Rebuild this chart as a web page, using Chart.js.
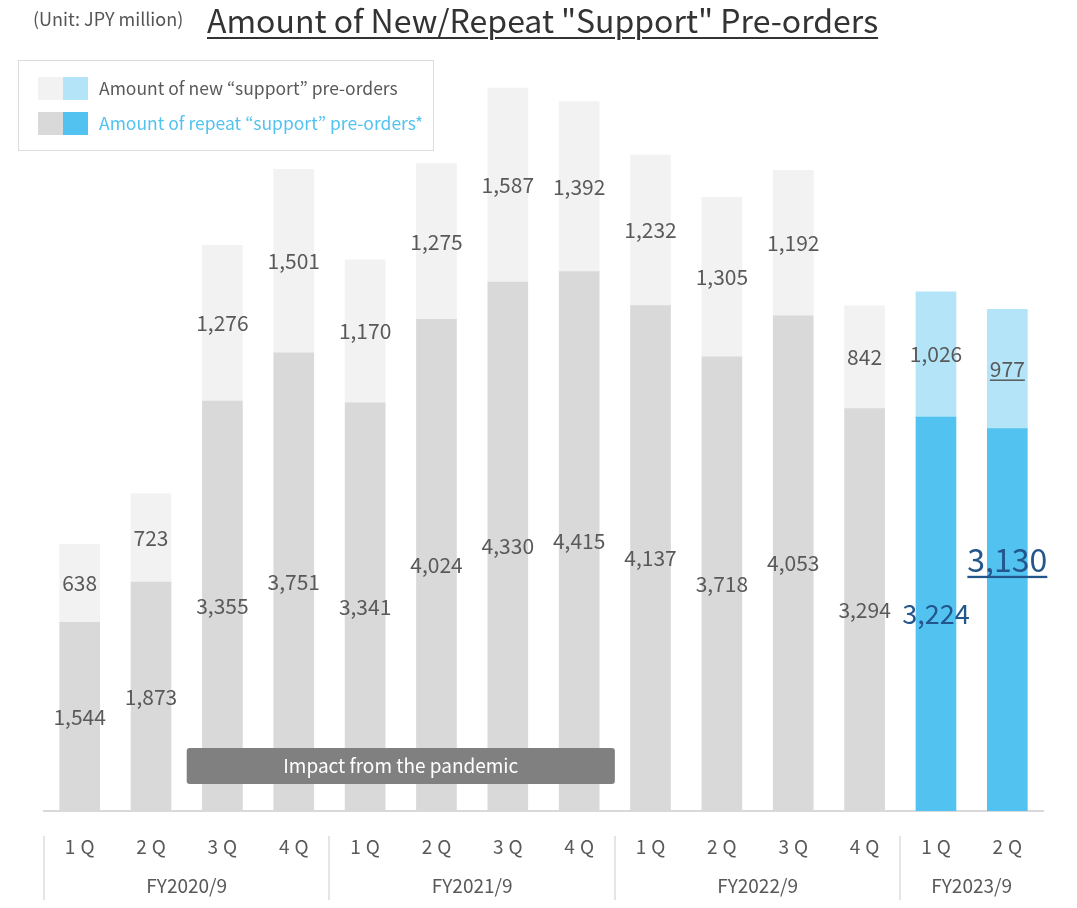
<!DOCTYPE html>
<html>
<head>
<meta charset="utf-8">
<script src="https://cdn.jsdelivr.net/npm/chart.js@4.4.1/dist/chart.umd.min.js"></script>
<style>
  html, body { margin: 0; padding: 0; background: #fff; }
  body { font-family: "Noto Sans CJK JP", "Noto Sans", sans-serif; }
  #wrap { position: relative; width: 1077px; height: 908px; overflow: hidden; }
  #chart { position: absolute; left: 0; top: 0; }
  .unit { position: absolute; left: 33px; top: 5px; font-size: 18px; line-height: 26px; color: #555; white-space: nowrap; }
  .title { position: absolute; left: 207px; top: -4px; font-size: 32px; line-height: 46px; color: #333; white-space: nowrap;
           text-decoration: underline; text-decoration-thickness: 2px; text-underline-offset: 4px; }
  .legend { position: absolute; left: 18px; top: 60px; width: 414px; height: 89px; border: 1px solid #dcdcdc; }
  .row { position: absolute; left: 0; height: 24px; width: 100%; }
  .sw { position: absolute; top: 0; width: 25px; height: 23px; }
  .lbl { position: absolute; left: 80px; top: -1px; font-size: 17.5px; line-height: 24px; white-space: nowrap; }
</style>
</head>
<body>
<div id="wrap">
  <canvas id="chart" width="1077" height="908"></canvas>
  <div class="unit">(Unit: JPY million)</div>
  <div class="title">Amount of New/Repeat "Support" Pre-orders</div>
  <div class="legend">
    <div class="row" style="top:16px">
      <div class="sw" style="left:19px;background:#f2f2f2"></div>
      <div class="sw" style="left:44px;background:#b3e4f8"></div>
      <div class="lbl" style="color:#595959">Amount of new “support” pre-orders</div>
    </div>
    <div class="row" style="top:51px">
      <div class="sw" style="left:19px;background:#d9d9d9"></div>
      <div class="sw" style="left:44px;background:#52c2f0"></div>
      <div class="lbl" style="color:#52c2f0">Amount of repeat “support” pre-orders*</div>
    </div>
  </div>
</div>
<script>
// Quarterly pre-order amounts (JPY million)
const quarters = ['1Q', '2Q', '3Q', '4Q', '1Q', '2Q', '3Q', '4Q', '1Q', '2Q', '3Q', '4Q', '1Q', '2Q'];
const fiscalYears = ['FY2020/9', 'FY2021/9', 'FY2022/9', 'FY2023/9'];
const quartersPerYear = [4, 4, 4, 2];
const repeatOrders = [1544, 1873, 3355, 3751, 3341, 4024, 4330, 4415, 4137, 3718, 4053, 3294, 3224, 3130];
const newOrders = [638, 723, 1276, 1501, 1170, 1275, 1587, 1392, 1232, 1305, 1192, 842, 1026, 977];
const pandemicLabel = 'Impact from the pandemic';
const pandemicRange = [2, 7]; // first and last quarter index affected

const FONT = '"Noto Sans CJK JP", "Noto Sans", sans-serif';
const currentYearStart = 12; // quarters of the current fiscal year are drawn in blue
const QUARTER_SPACING = 5;   // letter spacing of the quarter tick labels

const newColors = quarters.map((_, i) => i >= currentYearStart ? '#b3e4f8' : '#f2f2f2');
const repeatColors = quarters.map((_, i) => i >= currentYearStart ? '#52c2f0' : '#d9d9d9');

// Per-label text styling for the value labels
function labelStyle(datasetIndex, i) {
  const s = { size: 21, color: '#595959', underline: false, dy: 0 };
  if (datasetIndex === 0 && i === 12) { s.size = 27; s.color = '#23568c'; }
  if (datasetIndex === 0 && i === 13) { s.size = 32; s.color = '#23568c'; s.underline = true; s.dy = -60; }
  if (datasetIndex === 1 && i === 13) { s.underline = true; }
  return s;
}

const valueLabels = {
  id: 'valueLabels',
  afterDatasetsDraw(chart) {
    const ctx = chart.ctx;
    ctx.save();
    ctx.textAlign = 'center';
    ctx.textBaseline = 'middle';
    chart.data.datasets.forEach((ds, di) => {
      const meta = chart.getDatasetMeta(di);
      meta.data.forEach((bar, i) => {
        const st = labelStyle(di, i);
        const text = ds.data[i].toLocaleString('en-US');
        const x = bar.x;
        const y = (bar.y + bar.base) / 2 + st.dy;
        ctx.font = `400 ${st.size}px ${FONT}`;
        ctx.fillStyle = st.color;
        ctx.fillText(text, x, y);
        if (st.underline) {
          const w = ctx.measureText(text).width;
          ctx.fillRect(x - w / 2, y + st.size * 0.5, w, Math.max(1.5, st.size / 14));
        }
      });
    });
    ctx.restore();
  }
};

// Grey banner spanning the pandemic-affected quarters
const pandemicBanner = {
  id: 'pandemicBanner',
  afterDatasetsDraw(chart) {
    const ctx = chart.ctx;
    const xs = chart.scales.x;
    const pitch = xs.getPixelForValue(1) - xs.getPixelForValue(0);
    const x0 = xs.getPixelForValue(pandemicRange[0]) - pitch / 2;
    const x1 = xs.getPixelForValue(pandemicRange[1]) + pitch / 2;
    const yb = chart.chartArea.bottom;
    const y0 = yb - 63, h = 36;
    ctx.save();
    ctx.fillStyle = '#808080';
    ctx.beginPath();
    ctx.roundRect(x0, y0, x1 - x0, h, 3);
    ctx.fill();
    ctx.fillStyle = '#ffffff';
    ctx.font = `400 19px ${FONT}`;
    ctx.textAlign = 'center';
    ctx.textBaseline = 'middle';
    ctx.fillText(pandemicLabel, (x0 + x1) / 2, y0 + h / 2);
    ctx.restore();
  }
};

// Quarter tick spacing, fiscal-year labels and separators under the axis
const yearAxis = {
  id: 'yearAxis',
  beforeDraw(chart) { chart.ctx.letterSpacing = QUARTER_SPACING + 'px'; },
  beforeDatasetsDraw(chart) { chart.ctx.letterSpacing = '0px'; },
  afterDraw(chart) {
    const ctx = chart.ctx;
    const xs = chart.scales.x;
    const pitch = xs.getPixelForValue(1) - xs.getPixelForValue(0);
    const yb = chart.chartArea.bottom;
    ctx.save();
    ctx.letterSpacing = '0px';
    ctx.font = `400 19px ${FONT}`;
    ctx.fillStyle = '#595959';
    ctx.textAlign = 'center';
    ctx.textBaseline = 'middle';
    let start = 0;
    fiscalYears.forEach((fy, k) => {
      const n = quartersPerYear[k];
      const left = xs.getPixelForValue(start) - pitch / 2;
      const right = xs.getPixelForValue(start + n - 1) + pitch / 2;
      ctx.fillText(fy, (left + right) / 2, yb + 75);
      ctx.fillStyle = '#cccccc';
      ctx.fillRect(Math.round(left) - 0.5, yb + 25, 1, 64);
      ctx.fillStyle = '#595959';
      start += n;
    });
    ctx.restore();
  }
};

new Chart(document.getElementById('chart'), {
  type: 'bar',
  data: {
    labels: quarters,
    datasets: [
      { label: 'Amount of repeat “support” pre-orders*', data: repeatOrders, backgroundColor: repeatColors, barThickness: 40 },
      { label: 'Amount of new “support” pre-orders', data: newOrders, backgroundColor: newColors, barThickness: 40 }
    ]
  },
  options: {
    responsive: false,
    animation: false,
    events: [],
    layout: { padding: { left: 44, right: 34, top: 78, bottom: 0 } },
    plugins: { legend: { display: false }, tooltip: { enabled: false } },
    scales: {
      x: {
        stacked: true,
        grid: { display: false, drawTicks: false },
        border: { display: true, color: '#d9d9d9', width: 2 },
        ticks: { color: '#595959', font: { family: FONT, size: 19 }, padding: 24, maxRotation: 0, autoSkip: false,
                 labelOffset: QUARTER_SPACING / 2 },
        afterFit(scale) { scale.height = 97; }
      },
      y: {
        stacked: true,
        display: false,
        min: 0,
        max: 6000
      }
    }
  },
  plugins: [valueLabels, pandemicBanner, yearAxis]
});
</script>
</body>
</html>
